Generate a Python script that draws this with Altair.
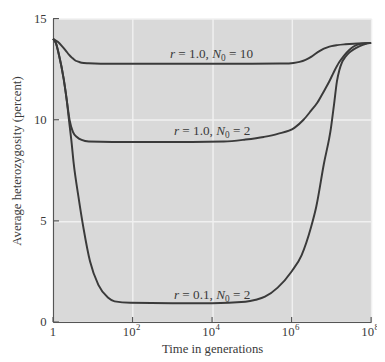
import altair as alt
import pandas as pd

# ---- data (x = log10 of time in generations) ----
a_logt = [0, 0.12, 0.23, 0.32, 0.4, 0.48, 0.56, 0.64, 0.72, 0.89, 1.2, 2, 3, 4, 5, 5.8, 6.05, 6.2, 6.35, 6.5, 6.6, 6.7, 6.8, 6.9, 7.0, 7.15, 7.35, 7.56, 7.8, 8.0]
a_het = [14.0, 13.85, 13.63, 13.42, 13.22, 13.06, 12.93, 12.87, 12.82, 12.79, 12.77, 12.77, 12.77, 12.77, 12.77, 12.78, 12.81, 12.86, 12.96, 13.12, 13.26, 13.39, 13.5, 13.58, 13.64, 13.69, 13.73, 13.76, 13.78, 13.79]

b_logt = [0, 0.07, 0.15, 0.27, 0.35, 0.42, 0.5, 0.6, 0.72, 0.9, 1.5, 2.5, 3.5, 4.3, 4.84, 5.3, 5.65, 6.07, 6.3, 6.49, 6.65, 6.81, 6.95, 7.06, 7.2, 7.31, 7.45, 7.56, 7.7, 7.85, 8.0]
b_het = [14.0, 13.8, 13.2, 12.0, 10.9, 9.95, 9.4, 9.15, 9.0, 8.92, 8.9, 8.9, 8.9, 8.92, 9.02, 9.15, 9.3, 9.6, 10.0, 10.45, 10.85, 11.4, 11.9, 12.35, 12.85, 13.15, 13.45, 13.62, 13.74, 13.78, 13.8]

c_logt = [0, 0.07, 0.15, 0.27, 0.35, 0.4, 0.46, 0.52, 0.64, 0.77, 0.93, 1.14, 1.38, 1.55, 1.95, 3, 4, 4.84, 5.1, 5.33, 5.65, 6.0, 6.25, 6.49, 6.62, 6.81, 6.99, 7.07, 7.14, 7.2, 7.27, 7.35, 7.45, 7.56, 7.7, 7.85, 8.0]
c_het = [14.0, 13.8, 13.2, 12.0, 10.9, 10.0, 9.0, 7.84, 6.19, 4.6, 3.0, 1.84, 1.21, 1.02, 0.95, 0.93, 0.93, 1.0, 1.1, 1.25, 1.7, 2.5, 3.3, 4.7, 5.7, 7.8, 9.6, 10.8, 11.9, 12.45, 12.85, 13.1, 13.32, 13.48, 13.63, 13.74, 13.8]

curve_names = ["r=1.0,N0=10", "r=1.0,N0=2", "r=0.1,N0=2"]

# curve labels
label_x = [2.94, 3.04, 3.04]
label_y = [13.25, 9.45, 1.35]
label_r = ["1.0", "1.0", "0.1"]
label_n0 = ["10", "2", "2"]

# axis ticks
x_ticks = [0, 2, 4, 6, 8]
x_tick_base = ["1", "10", "10", "10", "10"]
x_tick_sup = ["", "2", "4", "6", "8"]
y_ticks = [0, 5, 10, 15]

# ---- tables ----
curves = pd.concat([
    pd.DataFrame({"x": a_logt, "y": a_het, "curve": curve_names[0]}),
    pd.DataFrame({"x": b_logt, "y": b_het, "curve": curve_names[1]}),
    pd.DataFrame({"x": c_logt, "y": c_het, "curve": curve_names[2]}),
], ignore_index=True)

labels = pd.DataFrame({
    "x": label_x, "y": label_y,
    "s1": ["r"] * 3,
    "s2": ["= " + v + "," for v in label_r],
    "s3": ["N"] * 3,
    "s4": ["0"] * 3,
    "s5": ["= " + v for v in label_n0],
})

ticklab = pd.DataFrame({"x": x_ticks, "y": [0] * len(x_ticks),
                        "base": x_tick_base, "sup": x_tick_sup})
ticklab_one = ticklab[ticklab["sup"] == ""]
ticklab_pow = ticklab[ticklab["sup"] != ""]

xt = pd.DataFrame({"x": x_ticks, "y": [0] * len(x_ticks), "y2": [0.25] * len(x_ticks)})
yt = pd.DataFrame({"y": y_ticks, "x": [0] * len(y_ticks), "x2": [0.15] * len(y_ticks)})

FONT = "Liberation Serif"
INK = "#3a3a3a"
LINE = "#3a3a3a"

lines = alt.Chart(curves).mark_line(color=LINE, strokeWidth=2, interpolate="monotone").encode(
    x=alt.X("x:Q", scale=alt.Scale(domain=[0, 8], nice=False, zero=False),
            axis=alt.Axis(values=x_ticks, labels=False, title="Time in generations",
                          ticks=False, titleY=21, titleBaseline="top")),
    y=alt.Y("y:Q", scale=alt.Scale(domain=[0, 15], nice=False),
            axis=alt.Axis(values=y_ticks, title="Average heterozygosity (percent)",
                          ticks=False, labelPadding=7, titleX=-30, titleY=145)),
    detail="curve:N",
)

xtick_layer = alt.Chart(xt).mark_rule(color="#555555", strokeWidth=1.2).encode(
    x="x:Q", y="y:Q", y2="y2:Q")
ytick_layer = alt.Chart(yt).mark_rule(color="#555555", strokeWidth=1.2).encode(
    y="y:Q", x="x:Q", x2="x2:Q")

# x tick labels with real superscripts
tl1 = alt.Chart(ticklab_one).mark_text(align="center", baseline="middle", font=FONT,
                                       fontSize=13, color=INK, dy=10).encode(
    x="x:Q", y="y:Q", text="base:N")
tl2 = alt.Chart(ticklab_pow).mark_text(align="right", baseline="middle", font=FONT,
                                       fontSize=13, color=INK, dx=3, dy=10).encode(
    x="x:Q", y="y:Q", text="base:N")
tl3 = alt.Chart(ticklab_pow).mark_text(align="left", baseline="middle", font=FONT,
                                       fontSize=9, color=INK, dx=3.5, dy=5).encode(
    x="x:Q", y="y:Q", text="sup:N")

FS = 13.5
base = alt.Chart(labels).encode(x="x:Q", y="y:Q")
t1 = base.mark_text(align="left", baseline="middle", font=FONT, fontStyle="italic",
                    fontSize=FS, color=INK, dx=0).encode(text="s1:N")
t2 = base.mark_text(align="left", baseline="middle", font=FONT,
                    fontSize=FS, color=INK, dx=8.6).encode(text="s2:N")
t3 = base.mark_text(align="left", baseline="middle", font=FONT, fontStyle="italic",
                    fontSize=FS, color=INK, dx=43.2).encode(text="s3:N")
t4 = base.mark_text(align="left", baseline="middle", font=FONT,
                    fontSize=9.5, color=INK, dx=52.2, dy=4).encode(text="s4:N")
t5 = base.mark_text(align="left", baseline="middle", font=FONT,
                    fontSize=FS, color=INK, dx=60.4).encode(text="s5:N")

chart = alt.layer(lines, xtick_layer, ytick_layer, tl1, tl2, tl3,
                  t1, t2, t3, t4, t5).properties(
    width=325, height=310,
    padding={"left": 46, "top": 7, "right": 6, "bottom": 37},
    autosize=alt.AutoSizeParams(type="none"),
).configure_view(
    fill="#d9d9d9", strokeOpacity=0, clip=False,
).configure_axis(
    domainColor="#555555", domainWidth=1.2,
    grid=True, gridColor="#f0f0f0", gridWidth=1.5,
    labelFont=FONT, labelFontSize=13, labelColor=INK,
    titleFont=FONT, titleFontSize=13, titleFontWeight="normal", titleColor=INK,
)

chart.save("out.html", embed_options={"renderer": "svg", "actions": False})
